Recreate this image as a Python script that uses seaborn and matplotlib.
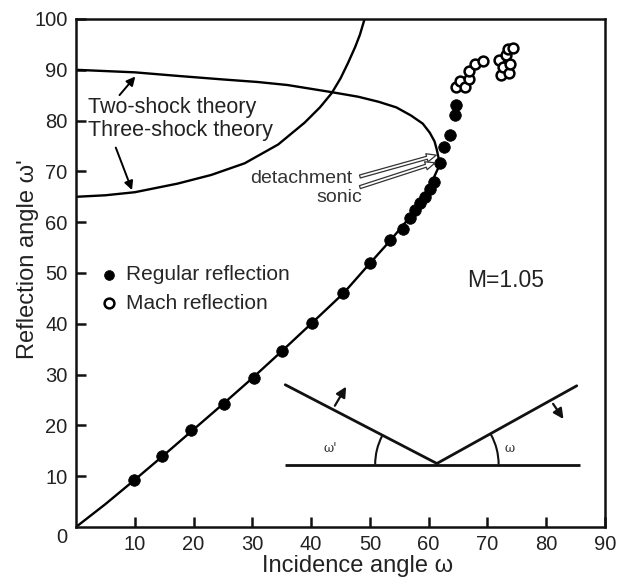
import numpy as np
import pandas as pd
import matplotlib
matplotlib.use('Agg')
import matplotlib.pyplot as plt
from matplotlib.patches import Arc
import seaborn as sns

# regular reflection (filled dots)
rr_x = [9.9, 14.6, 19.5, 25.2, 30.3, 35.1, 40.1, 45.5, 50.0, 53.5, 55.6, 56.8, 57.7, 58.6,
        59.4, 60.3, 60.9, 61.9, 62.6, 63.7, 64.4, 64.6]
rr_y = [9.3, 14.0, 19.0, 24.3, 29.4, 34.6, 40.1, 46.1, 52.0, 56.4, 58.6, 60.8, 62.4, 63.8,
        65.0, 66.6, 68.0, 71.6, 74.8, 77.2, 81.1, 83.1]

# mach reflection (open circles)
mr_x = [64.7, 65.3, 66.2, 66.9, 66.9, 67.8, 69.2, 71.9, 72.3, 72.6, 73.1, 73.6, 73.9, 73.5, 74.3]
mr_y = [86.6, 87.8, 86.7, 88.2, 89.8, 91.2, 91.8, 92.0, 89.0, 90.6, 93.0, 89.4, 91.2, 94.0, 94.3]

# two-shock theory: upper branch out to detachment, back down the lower branch
two_x = [0, 10, 17.3, 25, 30.9, 36, 43.5, 48, 51.5, 54.5, 57, 59, 60.2, 61.0, 61.4, 61.8,
         61.6, 61.2, 60.5, 59.5, 58.3, 56.8, 55.0, 53.4, 50, 45.5, 40, 35, 30, 25, 20, 15, 10, 5, 0]
two_y = [90, 89.5, 88.8, 88.1, 87.6, 87.0, 85.6, 84.7, 83.7, 82.6, 81.0, 79.4, 77.6, 75.9, 74.2, 72.0,
         70.6, 69.6, 67.8, 65.8, 63.6, 61.0, 58.5, 56.3, 51.9, 46.0, 40.0, 34.6, 29.3, 24.2, 19.2, 14.2, 9.3, 4.5, 0]

# three-shock theory
three_x = [0, 5, 10, 17.3, 23, 28.7, 34.4, 38.9, 41.5, 43.5, 45, 46.3, 47.5, 48.3, 49.1]
three_y = [65, 65.3, 65.9, 67.6, 69.3, 71.6, 75.3, 79.6, 82.6, 85.4, 88.3, 91.4, 94.5, 96.9, 100]

# sketch of the reflection in the lower right corner
wall_x = [35.6, 85.7]
wall_y = [12.2, 12.2]
shock_x = [35.6, 61.4, 85.2]
shock_y = [28.0, 12.5, 27.8]

sns.set_style('ticks')
plt.rcParams['font.family'] = ['Liberation Sans', 'DejaVu Sans']

fig = plt.figure(figsize=(6.17, 5.79), dpi=100)
ax = fig.add_axes([76 / 617, 52 / 579, 529 / 617, 508 / 579])

sns.lineplot(x=two_x, y=two_y, sort=False, estimator=None, color='black', lw=1.7, ax=ax)
sns.lineplot(x=three_x, y=three_y, sort=False, estimator=None, color='black', lw=1.7, ax=ax)

sns.scatterplot(x=rr_x, y=rr_y, color='black', s=70, edgecolor='black', linewidth=0.5,
                label='Regular reflection', ax=ax, zorder=3)
sns.scatterplot(x=mr_x, y=mr_y, facecolor='white', edgecolor='black', s=50, linewidth=1.8,
                label='Mach reflection', ax=ax, zorder=3)

leg = ax.legend(loc='upper left', bbox_to_anchor=(0.05, 0.515), frameon=False, fontsize=15,
                handlelength=0.6, handletextpad=0.55, labelspacing=0.45, borderpad=0,
                borderaxespad=0)
for h in leg.legend_handles:
    h.set_sizes([50])

# inset sketch
ax.plot(wall_x, wall_y, color='#111', lw=2.0, solid_capstyle='butt')
ax.plot(shock_x, shock_y, color='#111', lw=2.0)
ax.annotate('', xy=(46.2, 28.1), xytext=(43.8, 23.4),
            arrowprops=dict(arrowstyle='-|>', color='#111', lw=1.6, mutation_scale=15))
ax.annotate('', xy=(83.2, 20.8), xytext=(80.9, 24.7),
            arrowprops=dict(arrowstyle='-|>', color='#111', lw=1.6, mutation_scale=15))
ax.add_patch(Arc((61.4, 12.3), 21.0, 24.4, theta1=149, theta2=180, color='#111', lw=1.5))
ax.add_patch(Arc((61.4, 12.3), 21.0, 24.4, theta1=0, theta2=33, color='#111', lw=1.5))
ax.text(43.3, 15.4, "ω'", family='DejaVu Serif', fontsize=9, ha='center', va='center', color='#333')
ax.text(73.8, 15.4, 'ω', family='DejaVu Serif', fontsize=9, ha='center', va='center', color='#333')

# theory labels
ax.text(2.0, 82.6, 'Two-shock theory', fontsize=15.5, ha='left', va='center', color='#222')
ax.text(2.0, 78.0, 'Three-shock theory', fontsize=15.5, ha='left', va='center', color='#222')
ax.annotate('', xy=(10.4, 89.1), xytext=(7.1, 84.6),
            arrowprops=dict(arrowstyle='-|>', color='black', lw=1.4, mutation_scale=13))
ax.annotate('', xy=(9.7, 65.8), xytext=(6.6, 75.2),
            arrowprops=dict(arrowstyle='-|>', color='black', lw=1.4, mutation_scale=13))

ax.text(47.1, 68.6, 'detachment', fontsize=14, ha='right', va='center', color='#333')
ax.text(48.6, 64.8, 'sonic', fontsize=14, ha='right', va='center', color='#333')
ax.annotate('', xy=(61.3, 73.2), xytext=(48.3, 69.0),
            arrowprops=dict(facecolor='white', edgecolor='#333', width=2.2, headwidth=6,
                            headlength=7, lw=0.9, shrink=0))
ax.annotate('', xy=(61.1, 71.7), xytext=(48.3, 66.9),
            arrowprops=dict(facecolor='white', edgecolor='#333', width=2.2, headwidth=6,
                            headlength=7, lw=0.9, shrink=0))

ax.text(66.5, 48.6, 'M=1.05', fontsize=16.5, ha='left', va='center', color='#222')

# axes
ax.set_xlim(0, 90)
ax.set_ylim(0, 100)
ax.set_xticks(range(10, 91, 10))
ax.set_yticks(range(10, 101, 10))
ax.tick_params(direction='in', length=7, width=1.8, labelsize=14.5, pad=6,
               colors='#111', labelcolor='#222')
for s in ax.spines.values():
    s.set_linewidth(1.8)
    s.set_color('#111')
ax.text(-0.026, -0.02, '0', transform=ax.transAxes, fontsize=14.5, ha='center', va='center',
        color='#222')

ax.set_xlabel('Incidence angle ω', fontsize=17, color='#222')
ax.set_ylabel("Reflection angle ω'", fontsize=17, color='#222')
ax.xaxis.set_label_coords(0.533, -0.055)
ax.yaxis.set_label_coords(-0.07, 0.527)

fig.savefig('out.png', dpi=100)
